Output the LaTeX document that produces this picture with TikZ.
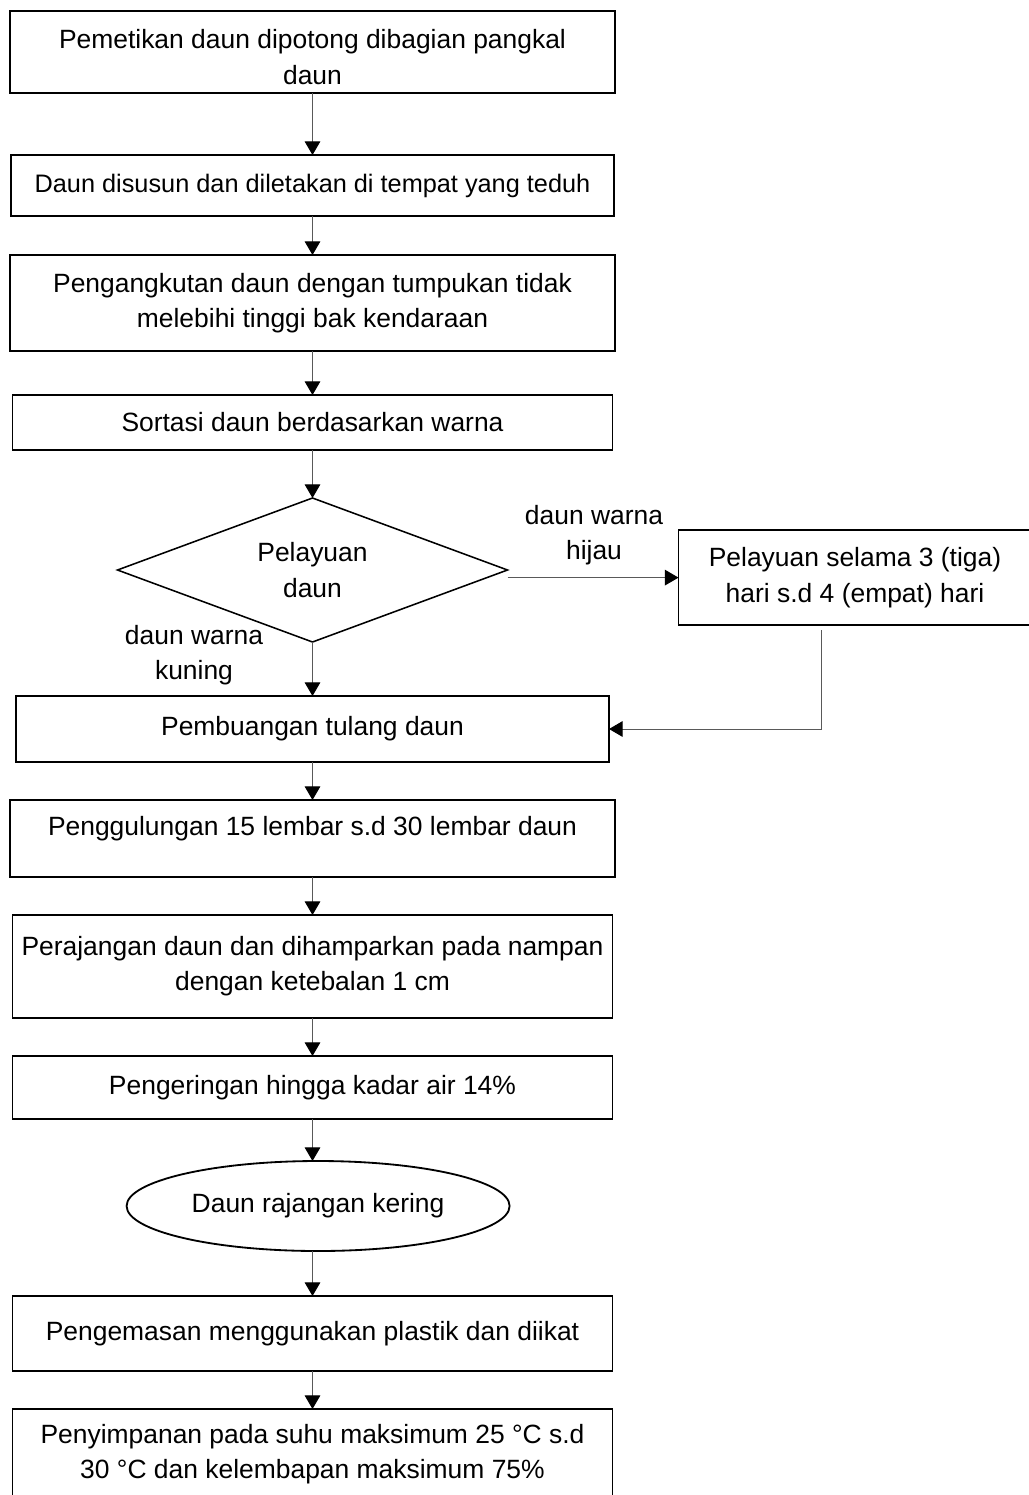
\documentclass[tikz,border=0pt]{standalone}
\usepackage{fontspec}
\setmainfont{Liberation Sans}
\usepackage{tikz}
\usetikzlibrary{positioning,shapes.geometric,arrows.meta}

\tikzset{
  kotak/.style={draw, line width=1.3pt, align=center, inner xsep=2pt, outer sep=0pt},
  keputusan/.style={draw, diamond, line width=1.1pt, align=center, inner sep=0pt, outer sep=0pt, aspect=2.7},
  hasil/.style={draw, ellipse, line width=1.3pt, align=center, inner sep=0pt, outer sep=0pt},
  panah/.style={draw=black!65, line width=0.7pt, -{Triangle[length=3.4mm,width=3.9mm,color=black]}}
}

\begin{document}
\begin{tikzpicture}[node distance=0.95cm, every node/.style={font=\fontsize{18.8}{25}\selectfont}]
  \useasboundingbox (0,0) rectangle (25.725,-37.375);
  \clip (0,0) rectangle (25.725,-37.375);
  \node[kotak, minimum width=15.125cm, minimum height=2.05cm, text height=45.9pt] (petik) at (7.8125,-1.3) {Pemetikan daun dipotong dibagian pangkal\\daun};
  \node[kotak, below=1.55cm of petik, minimum width=15.075cm, minimum height=1.525cm, font=\fontsize{18}{25}\selectfont] (susun) {Daun disusun dan diletakan di tempat yang teduh};
  \node[kotak, below=0.975cm of susun, minimum width=15.125cm, minimum height=2.4cm] (angkut) {Pengangkutan daun dengan tumpukan tidak\\melebihi tinggi bak kendaraan};
  \node[kotak, below=1.1cm of angkut, minimum width=15cm, minimum height=1.375cm] (sortasi) {Sortasi daun berdasarkan warna};
  \node[keputusan, below=1.2cm of sortasi, minimum width=9.75cm, minimum height=3.6cm] (layu) {Pelayuan\\daun};
  \node[kotak, right=4.275cm of layu, yshift=-0.19cm, minimum width=8.825cm, minimum height=2.375cm] (layulama) {Pelayuan selama 3 (tiga)\\hari s.d 4 (empat) hari};
  \node[kotak, below=1.35cm of layu, minimum width=14.825cm, minimum height=1.65cm] (tulang) {Pembuangan tulang daun};
  \node[kotak, below=of tulang, minimum width=15.125cm, minimum height=1.925cm, text depth=18pt] (gulung) {Penggulungan 15 lembar s.d 30 lembar daun};
  \node[kotak, below=of gulung, minimum width=15cm, minimum height=2.575cm] (rajang) {Perajangan daun dan dihamparkan pada nampan\\dengan ketebalan 1 cm};
  \node[kotak, below=of rajang, minimum width=15cm, minimum height=1.575cm] (kering) {Pengeringan hingga kadar air 14\%};
  \node[hasil, below=1.05cm of kering, xshift=0.14cm, minimum width=9.575cm, minimum height=2.25cm] (rajangan) {Daun rajangan kering};
  \node[kotak, below=1.125cm of rajangan, xshift=-0.14cm, minimum width=15cm, minimum height=1.875cm] (kemas) {Pengemasan menggunakan plastik dan diikat};
  \node[kotak, below=of kemas, minimum width=15cm, minimum height=2.25cm] (simpan) {Penyimpanan pada suhu maksimum 25 °C s.d\\30 °C dan kelembapan maksimum 75\%};
  \node[align=center] (hijau) at (14.85,-13.375) {daun warna\\hijau};
  \node[align=center] (kuning) at (4.85,-16.375) {daun warna\\kuning};
  \coordinate (balik) at ([xshift=-0.84cm,yshift=-0.125cm]layulama.south);
  \draw[panah] (petik) -- (susun);
  \draw[panah] (susun) -- (angkut);
  \draw[panah] (angkut) -- (sortasi);
  \draw[panah] (sortasi) -- (layu);
  \draw[panah] (layu) -- (tulang);
  \draw[panah] (layu.east |- layulama.west) -- (layulama.west);
  \draw[panah] (balik) |- (tulang.east);
  \draw[panah] (tulang) -- (gulung);
  \draw[panah] (gulung) -- (rajang);
  \draw[panah] (rajang) -- (kering);
  \draw[panah] (kering) -- (kering |- rajangan.north);
  \draw[panah] (rajangan.south -| kemas) -- (kemas);
  \draw[panah] (kemas) -- (simpan);
\end{tikzpicture}
\end{document}
